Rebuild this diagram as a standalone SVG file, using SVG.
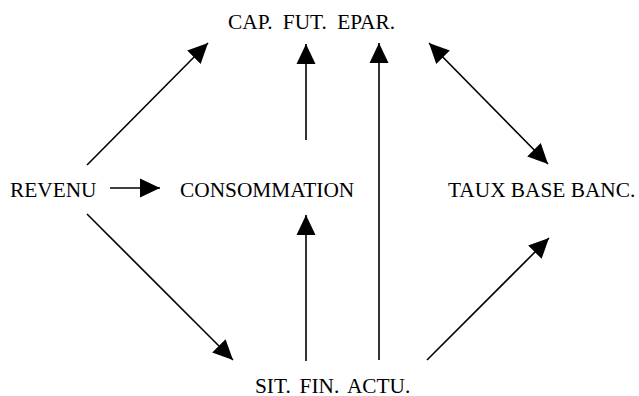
<svg xmlns="http://www.w3.org/2000/svg" width="639" height="396" viewBox="0 0 639 396">
<style>
text{font-family:"Liberation Serif","Times New Roman",serif;font-size:21.33px;fill:#000}
.c line{stroke:#000;stroke-width:1.6;fill:none}
</style>
<defs>
<marker id="ah" markerUnits="userSpaceOnUse" markerWidth="20" markerHeight="20" refX="20" refY="10" orient="auto-start-reverse"><path d="M0,0.5 L20,10 L0,19.5 Z" fill="#000"/></marker>
</defs>
<rect width="639" height="396" fill="#fff"/>
<g id="cap"><text x="228" y="29" word-spacing="5">CAP. FUT. EPAR.</text></g>
<g id="revenu"><text x="10" y="197">REVENU</text></g>
<g id="consommation"><text x="180" y="197">CONSOMMATION</text></g>
<g id="taux"><text x="448" y="197">TAUX BASE BANC.</text></g>
<g id="sit"><text x="255" y="393" word-spacing="3.5">SIT. FIN. ACTU.</text></g>
<g class="c" id="connectors">
<line x1="87" y1="165" x2="208" y2="43" marker-end="url(#ah)"/>
<line x1="110" y1="188" x2="160" y2="188" marker-end="url(#ah)"/>
<line x1="306" y1="140" x2="306" y2="44" marker-end="url(#ah)"/>
<line x1="379" y1="360" x2="379" y2="43" marker-end="url(#ah)"/>
<line x1="429" y1="43" x2="548" y2="164" marker-start="url(#ah)" marker-end="url(#ah)"/>
<line x1="87" y1="214" x2="233" y2="360" marker-end="url(#ah)"/>
<line x1="427" y1="360" x2="549" y2="238" marker-end="url(#ah)"/>
<line x1="306" y1="361" x2="306" y2="215" marker-end="url(#ah)"/>
</g>
</svg>
